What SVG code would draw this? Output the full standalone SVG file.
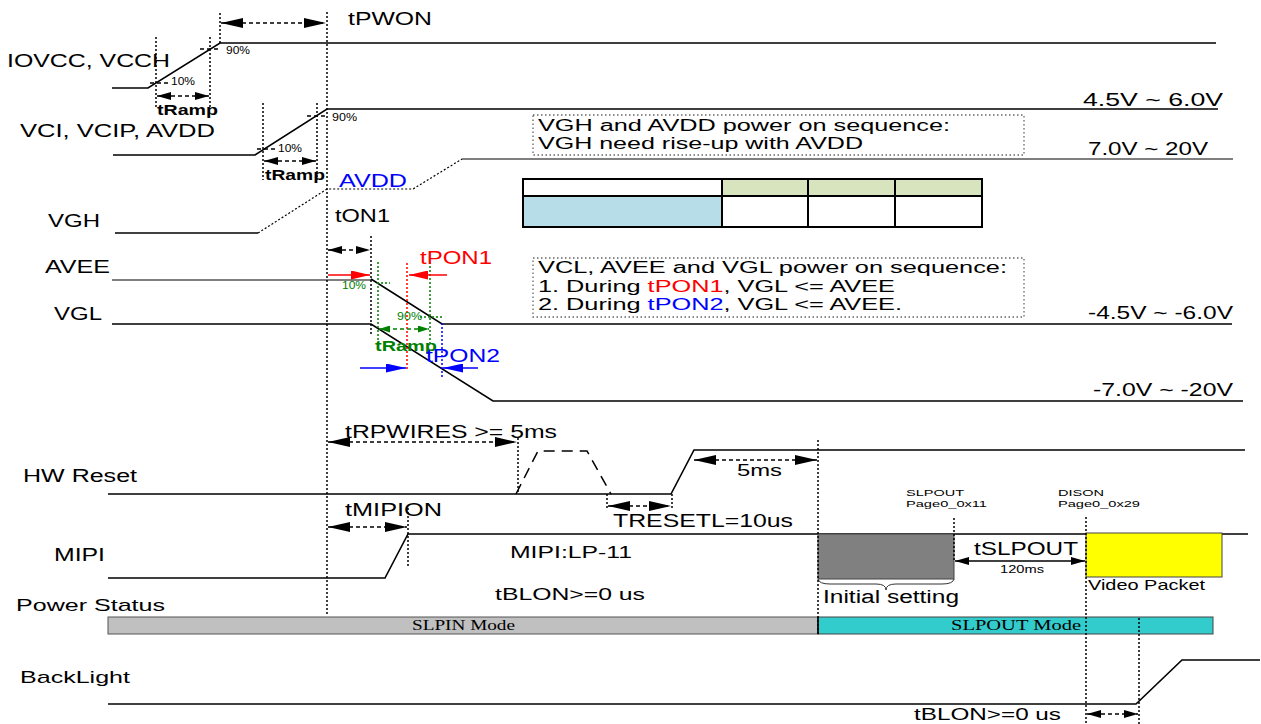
<svg xmlns="http://www.w3.org/2000/svg" width="1261" height="724" viewBox="0 0 1261 724">
<style>
text{font-family:"Liberation Sans",Arial,sans-serif;fill:#000}
.lbl{font-size:18px}
.sm{font-size:10px}
.tiny{font-size:9.5px}
.b{font-weight:bold;font-size:14px}
.serif{font-family:"Liberation Serif","Times New Roman",serif;font-size:14px}
.sig{stroke:#000;stroke-width:1.6;fill:none}
.sigg{stroke:#555;stroke-width:1.6;fill:none}
.dot{stroke:#000;stroke-width:1.5;stroke-dasharray:2 2;fill:none}
.dash{stroke:#000;stroke-width:1.3;stroke-dasharray:4 3;fill:none}
.gdot{stroke:#008000;stroke-width:1.5;stroke-dasharray:2 2;fill:none}
.rdot{stroke:#ff0000;stroke-width:1.5;stroke-dasharray:2 2;fill:none}
.bdot{stroke:#0000ff;stroke-width:1.5;stroke-dasharray:2 2;fill:none}
.box{fill:none;stroke:#666;stroke-width:1.3;stroke-dasharray:1.5 2.5}
</style>
<defs>
<marker id="aL" markerUnits="userSpaceOnUse" markerWidth="22" markerHeight="10" refX="22" refY="5" orient="auto-start-reverse"><path d="M0,0 L22,5 L0,10 z" fill="#000"/></marker>
<marker id="aM" markerUnits="userSpaceOnUse" markerWidth="14" markerHeight="8" refX="14" refY="4" orient="auto-start-reverse"><path d="M0,0 L14,4 L0,8 z" fill="#000"/></marker>
<marker id="aG" markerUnits="userSpaceOnUse" markerWidth="11" markerHeight="7" refX="11" refY="3.5" orient="auto-start-reverse"><path d="M0,0 L11,3.5 L0,7 z" fill="#008000"/></marker>
<marker id="aR" markerUnits="userSpaceOnUse" markerWidth="19" markerHeight="9" refX="19" refY="4.5" orient="auto-start-reverse"><path d="M0,0 L19,4.5 L0,9 z" fill="#ff0000"/></marker>
<marker id="aB" markerUnits="userSpaceOnUse" markerWidth="20" markerHeight="9" refX="20" refY="4.5" orient="auto-start-reverse"><path d="M0,0 L20,4.5 L0,9 z" fill="#0000ff"/></marker>
</defs>
<rect width="1261" height="724" fill="#fff"/>

<!-- IOVCC -->
<g id="iovcc">
<text class="lbl" x="7" y="67" textLength="163" lengthAdjust="spacingAndGlyphs">IOVCC, VCCH</text>
<polyline class="sig" points="112,88 148,88 220,43 1216,43"/>
<line class="dot" x1="156" y1="37" x2="156" y2="107"/>
<line class="dot" x1="210" y1="37" x2="210" y2="107"/>
<line class="dash" x1="150" y1="83" x2="170" y2="83"/>
<text class="sm" x="171" y="85" textLength="24" lengthAdjust="spacingAndGlyphs">10%</text>
<line class="dash" x1="200" y1="49" x2="220" y2="49"/>
<text class="sm" x="226" y="54" textLength="24" lengthAdjust="spacingAndGlyphs">90%</text>
<text class="b" x="157" y="115" textLength="61" lengthAdjust="spacingAndGlyphs">tRamp</text>
</g>

<!-- VCI -->
<g id="vci">
<text class="lbl" x="20" y="137" textLength="195" lengthAdjust="spacingAndGlyphs">VCI, VCIP, AVDD</text>
<polyline class="sig" points="113,155 255,155 327,109 1218,109"/>
<line class="dot" x1="263" y1="103" x2="263" y2="180"/>
<line class="dot" x1="317" y1="103" x2="317" y2="180"/>
<line class="dash" x1="257" y1="149" x2="278" y2="149"/>
<text class="sm" x="278" y="152" textLength="24" lengthAdjust="spacingAndGlyphs">10%</text>
<line class="dash" x1="307" y1="116" x2="327" y2="116"/>
<text class="sm" x="332" y="121" textLength="25" lengthAdjust="spacingAndGlyphs">90%</text>
<text class="b" x="265" y="180" textLength="60" lengthAdjust="spacingAndGlyphs">tRamp</text>
<text class="lbl" x="1083" y="106" textLength="140" lengthAdjust="spacingAndGlyphs">4.5V ~ 6.0V</text>
</g>

<!-- VGH -->
<g id="vgh">
<text class="lbl" x="48" y="227" textLength="52" lengthAdjust="spacingAndGlyphs">VGH</text>
<line class="sig" x1="115" y1="233" x2="258" y2="233"/>
<polyline class="dot" style="stroke-width:1.2" points="258,233 327,189 413,189 462,159"/>
<line class="sigg" x1="462" y1="159" x2="1233" y2="159"/>
<text class="lbl" x="339" y="187" style="fill:#0000ff" textLength="68" lengthAdjust="spacingAndGlyphs">AVDD</text>
<text class="lbl" x="1088" y="155" textLength="120" lengthAdjust="spacingAndGlyphs">7.0V ~ 20V</text>
</g>

<!-- AVEE -->
<g id="avee">
<text class="lbl" x="45" y="273" textLength="65" lengthAdjust="spacingAndGlyphs">AVEE</text>
<polyline class="sigg" points="112,280 371,280"/>
<polyline class="sig" points="371,279 442,324 1232,324"/>
<text class="lbl" x="1088" y="319" textLength="145" lengthAdjust="spacingAndGlyphs">-4.5V ~ -6.0V</text>
</g>

<!-- VGL -->
<g id="vgl">
<text class="lbl" x="54" y="320" textLength="48" lengthAdjust="spacingAndGlyphs">VGL</text>
<polyline class="sig" points="112,324 371,324 493,401 1243,401"/>
<text class="lbl" x="1093" y="396" textLength="140" lengthAdjust="spacingAndGlyphs">-7.0V ~ -20V</text>
</g>

<!-- tON1 / tPON annotations -->
<g id="pon">
<text class="lbl" x="335" y="222" textLength="55" lengthAdjust="spacingAndGlyphs">tON1</text>
<line class="dot" x1="371" y1="236" x2="371" y2="336"/>
<line class="gdot" x1="378" y1="262" x2="378" y2="345"/>
<line class="gdot" x1="430" y1="262" x2="430" y2="345"/>
<line class="gdot" x1="377" y1="283" x2="390" y2="283"/>
<line class="gdot" x1="420" y1="317" x2="442" y2="317"/>
<line class="rdot" x1="407" y1="263" x2="407" y2="369"/>
<line class="bdot" x1="442" y1="323" x2="442" y2="378"/>
<text class="sm" x="342" y="289" style="fill:#008000" textLength="24" lengthAdjust="spacingAndGlyphs">10%</text>
<text class="sm" x="397" y="320" style="fill:#008000" textLength="25" lengthAdjust="spacingAndGlyphs">90%</text>
<text class="b" x="375" y="351" style="fill:#008000" textLength="62" lengthAdjust="spacingAndGlyphs">tRamp</text>
<text class="lbl" x="420" y="264" style="fill:#ff0000" textLength="72" lengthAdjust="spacingAndGlyphs">tPON1</text>
<text class="lbl" x="426" y="362" style="fill:#0000ff" textLength="74" lengthAdjust="spacingAndGlyphs">tPON2</text>
</g>

<!-- Note box 1 -->
<g id="note1">
<rect class="box" x="533" y="115" width="491" height="40"/>
<text x="538" y="131" style="font-size:16px" textLength="412" lengthAdjust="spacingAndGlyphs">VGH and AVDD power on sequence:</text>
<text x="538" y="149" style="font-size:16px" textLength="325" lengthAdjust="spacingAndGlyphs">VGH need rise-up with AVDD</text>
</g>

<!-- Table -->
<g id="table">
<rect x="722" y="179" width="260" height="17" fill="#d7e4bd"/>
<rect x="523" y="196" width="199" height="31" fill="#b7dde8"/>
<rect x="523" y="179" width="459" height="48" fill="none" stroke="#000" stroke-width="2"/>
<line x1="523" y1="196" x2="982" y2="196" stroke="#000" stroke-width="2"/>
<line x1="722" y1="179" x2="722" y2="227" stroke="#000" stroke-width="2"/>
<line x1="808" y1="179" x2="808" y2="227" stroke="#000" stroke-width="2"/>
<line x1="895" y1="179" x2="895" y2="227" stroke="#000" stroke-width="2"/>
</g>

<!-- Note box 2 -->
<g id="note2">
<rect class="box" x="533" y="258" width="491" height="59"/>
<text x="538" y="273" style="font-size:16px" textLength="469" lengthAdjust="spacingAndGlyphs">VCL, AVEE and VGL power on sequence:</text>
<text x="538" y="292" style="font-size:16px" textLength="357" lengthAdjust="spacingAndGlyphs">1. During <tspan style="fill:#ff0000">tPON1</tspan>, VGL &lt;= AVEE</text>
<text x="538" y="310" style="font-size:16px" textLength="364" lengthAdjust="spacingAndGlyphs">2. During <tspan style="fill:#0000ff">tPON2</tspan>, VGL &lt;= AVEE.</text>
</g>

<!-- HW Reset -->
<g id="hwreset">
<text class="lbl" x="23" y="482" textLength="114" lengthAdjust="spacingAndGlyphs">HW Reset</text>
<polyline class="sig" points="108,494 671,494 694,450 1245,450"/>
<polyline fill="none" stroke="#000" stroke-width="1.5" stroke-dasharray="11 7" points="516,494 538,451 587,451 611,494"/>
<line class="dot" x1="518" y1="438" x2="518" y2="494"/>
<line class="dot" x1="607" y1="494" x2="607" y2="508"/>
<line class="dot" x1="672" y1="494" x2="672" y2="508"/>
<text class="lbl" x="345" y="438" textLength="212" lengthAdjust="spacingAndGlyphs">tRPWIRES &gt;= 5ms</text>
<text x="737" y="476" style="font-size:16px" textLength="45" lengthAdjust="spacingAndGlyphs">5ms</text>
<text class="lbl" x="613" y="527" textLength="180" lengthAdjust="spacingAndGlyphs">TRESETL=10us</text>
</g>

<!-- MIPI -->
<g id="mipi">
<text class="lbl" x="54" y="561" textLength="51" lengthAdjust="spacingAndGlyphs">MIPI</text>
<polyline class="sig" points="108,578 385,578 408,534 1248,534"/>
<line class="dot" x1="408" y1="508" x2="408" y2="566"/>
<text class="lbl" x="345" y="516" textLength="97" lengthAdjust="spacingAndGlyphs">tMIPION</text>
<text x="510" y="558" style="font-size:17px" textLength="122" lengthAdjust="spacingAndGlyphs">MIPI:LP-11</text>
<text x="495" y="600" style="font-size:17px" textLength="150" lengthAdjust="spacingAndGlyphs">tBLON&gt;=0 us</text>
</g>

<g id="initset">
<rect x="818" y="534" width="136" height="45" fill="#808080" stroke="#444" stroke-width="1"/>
<path d="M818,579 Q819,584 830,584 L876,584 Q886,584 886,590 Q886,584 896,584 L942,584 Q953,584 954,579" fill="none" stroke="#333" stroke-width="1"/>
<text class="lbl" x="823" y="603" textLength="136" lengthAdjust="spacingAndGlyphs">Initial setting</text>
<text class="tiny" x="906" y="496" textLength="58" lengthAdjust="spacingAndGlyphs">SLPOUT</text>
<text class="tiny" x="906" y="507" textLength="81" lengthAdjust="spacingAndGlyphs">Page0_0x11</text>
<line class="dot" x1="954" y1="518" x2="954" y2="560"/>
</g>

<g id="video">
<rect x="1086" y="533" width="136" height="44" fill="#ffff00" stroke="#444" stroke-width="1"/>
<text x="1088" y="590" style="font-size:15px" textLength="117" lengthAdjust="spacingAndGlyphs">Video Packet</text>
<text class="tiny" x="1058" y="496" textLength="46" lengthAdjust="spacingAndGlyphs">DISON</text>
<text class="tiny" x="1058" y="507" textLength="82" lengthAdjust="spacingAndGlyphs">Page0_0x29</text>
<text class="lbl" x="974" y="555" textLength="104" lengthAdjust="spacingAndGlyphs">tSLPOUT</text>
<text class="sm" x="1000" y="573" textLength="44" lengthAdjust="spacingAndGlyphs">120ms</text>
</g>

<!-- Power status -->
<g id="power">
<text x="16" y="611" style="font-size:17px" textLength="149" lengthAdjust="spacingAndGlyphs">Power Status</text>
<rect x="108" y="617" width="710" height="17" fill="#c0c0c0" stroke="#555" stroke-width="1"/>
<rect x="818" y="617" width="395" height="17" fill="#33cccc" stroke="#444" stroke-width="1"/>
<line x1="818" y1="617" x2="818" y2="634" stroke="#000" stroke-width="1.5"/>
<text class="serif" x="412" y="630" textLength="103" lengthAdjust="spacingAndGlyphs">SLPIN Mode</text>
<text class="serif" x="951" y="630" textLength="130" lengthAdjust="spacingAndGlyphs">SLPOUT Mode</text>
</g>

<!-- Backlight -->
<g id="backlight">
<text x="20" y="683" style="font-size:17px" textLength="110" lengthAdjust="spacingAndGlyphs">BackLight</text>
<polyline class="sig" points="108,704 1136,704 1182,660 1260,660"/>
<text x="914" y="720" style="font-size:17px" textLength="147" lengthAdjust="spacingAndGlyphs">tBLON&gt;=0 us</text>
</g>

<!-- Connectors: timing guides and arrows -->
<g id="connectors">
<line class="dot" x1="220" y1="13" x2="220" y2="43"/>
<line class="dot" x1="327" y1="12" x2="327" y2="616"/>
<line class="dot" x1="818" y1="440" x2="818" y2="634"/>
<line class="dot" x1="1086" y1="517" x2="1086" y2="724"/>
<line class="dot" x1="1139" y1="618" x2="1139" y2="724"/>
<line class="dash" x1="221" y1="23" x2="326" y2="23" marker-start="url(#aL)" marker-end="url(#aL)"/>
<text class="lbl" x="348" y="25" textLength="84" lengthAdjust="spacingAndGlyphs">tPWON</text>
<line class="dash" x1="157" y1="96" x2="209" y2="96" marker-start="url(#aM)" marker-end="url(#aM)"/>
<line class="dash" x1="264" y1="161" x2="316" y2="161" marker-start="url(#aM)" marker-end="url(#aM)"/>
<line class="dash" x1="328" y1="250" x2="370" y2="250" marker-start="url(#aM)" marker-end="url(#aM)"/>
<line stroke="#ff0000" stroke-width="1.3" x1="328" y1="275" x2="370" y2="275" marker-end="url(#aR)"/>
<line stroke="#ff0000" stroke-width="1.3" x1="447" y1="275" x2="409" y2="275" marker-end="url(#aR)"/>
<line class="dash" style="stroke:#008000" x1="379" y1="329" x2="429" y2="329" marker-start="url(#aG)" marker-end="url(#aG)"/>
<line stroke="#0000ff" stroke-width="1.3" x1="360" y1="368" x2="406" y2="368" marker-end="url(#aB)"/>
<line stroke="#0000ff" stroke-width="1.3" x1="478" y1="368" x2="443" y2="368" marker-end="url(#aB)"/>
<line class="dash" x1="328" y1="442" x2="517" y2="442" marker-start="url(#aL)" marker-end="url(#aL)"/>
<line class="dash" x1="694" y1="460" x2="817" y2="460" marker-start="url(#aL)" marker-end="url(#aL)"/>
<line class="dash" x1="608" y1="506" x2="671" y2="506" marker-start="url(#aL)" marker-end="url(#aL)"/>
<line class="dash" x1="328" y1="527" x2="407" y2="527" marker-start="url(#aL)" marker-end="url(#aL)"/>
<line stroke="#000" stroke-width="1.5" x1="955" y1="561" x2="1085" y2="561" marker-start="url(#aM)" marker-end="url(#aM)"/>
<line class="dash" x1="1087" y1="714" x2="1138" y2="714" marker-start="url(#aM)" marker-end="url(#aM)"/>
</g>
</svg>
